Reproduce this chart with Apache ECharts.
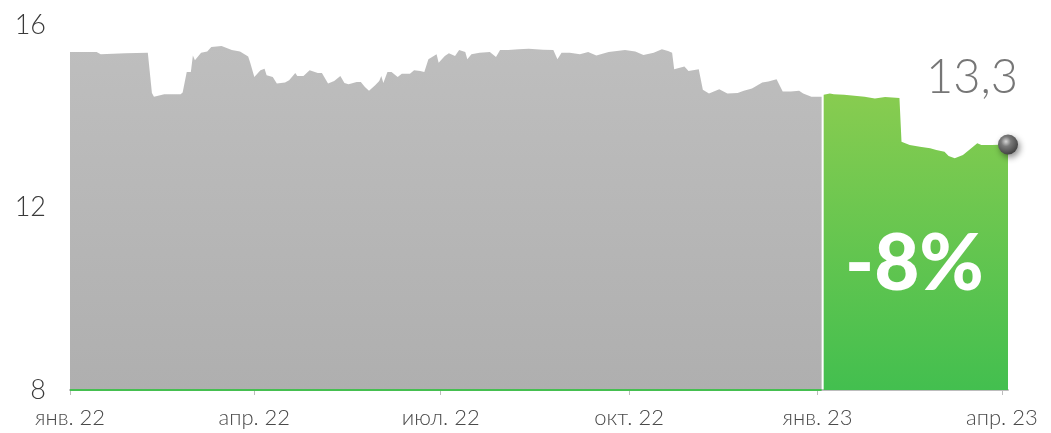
<!DOCTYPE html>
<html>
<head>
<meta charset="utf-8">
<script src="https://cdn.jsdelivr.net/npm/echarts@6/dist/echarts.min.js"></script>
<style>
  html, body { margin: 0; padding: 0; background: #fff; }
  #chart { width: 1051px; height: 433px; }
</style>
</head>
<body>
<div id="chart"></div>
<script>
// 2022: серая часть
var grayDates = ['2022-01-01', '2022-01-14', '2022-01-16', '2022-01-28', '2022-02-08', '2022-02-10', '2022-02-11', '2022-02-14',
  '2022-02-16', '2022-02-24', '2022-02-25', '2022-02-27', '2022-03-01', '2022-03-02', '2022-03-03', '2022-03-06',
  '2022-03-09', '2022-03-11', '2022-03-16', '2022-03-21', '2022-03-25', '2022-03-29', '2022-03-30', '2022-04-01',
  '2022-04-04', '2022-04-06', '2022-04-07', '2022-04-10', '2022-04-12', '2022-04-16', '2022-04-18', '2022-04-21',
  '2022-04-22', '2022-04-25', '2022-04-28', '2022-05-02', '2022-05-04', '2022-05-07', '2022-05-10', '2022-05-13',
  '2022-05-15', '2022-05-17', '2022-05-21', '2022-05-23', '2022-05-25', '2022-05-27', '2022-05-30', '2022-06-01',
  '2022-06-02', '2022-06-03', '2022-06-05', '2022-06-07', '2022-06-10', '2022-06-12', '2022-06-16', '2022-06-18',
  '2022-06-21', '2022-06-23', '2022-06-25', '2022-06-29', '2022-06-30', '2022-07-03', '2022-07-05', '2022-07-08',
  '2022-07-10', '2022-07-13', '2022-07-14', '2022-07-16', '2022-07-20', '2022-07-25', '2022-07-28', '2022-07-30',
  '2022-08-03', '2022-08-08', '2022-08-13', '2022-08-20', '2022-08-25', '2022-08-27', '2022-08-29', '2022-09-02',
  '2022-09-07', '2022-09-11', '2022-09-15', '2022-09-21', '2022-09-29', '2022-10-04', '2022-10-08', '2022-10-13',
  '2022-10-17', '2022-10-20', '2022-10-22', '2022-10-23', '2022-10-28', '2022-10-30', '2022-11-04', '2022-11-06',
  '2022-11-09', '2022-11-14', '2022-11-18', '2022-11-23', '2022-11-26', '2022-11-30', '2022-12-05', '2022-12-08',
  '2022-12-12', '2022-12-15', '2022-12-19', '2022-12-23', '2022-12-25', '2022-12-29', '2023-01-03']
var grayValues = [15.41, 15.41, 15.36, 15.38, 15.39, 14.51, 14.43, 14.46,
  14.48, 14.48, 14.52, 14.97, 14.97, 15.33, 15.23, 15.39,
  15.42, 15.52, 15.54, 15.45, 15.42, 15.31, 15.17, 14.86,
  15.01, 15.04, 14.90, 14.86, 14.72, 14.74, 14.79, 14.95,
  14.88, 14.88, 15.01, 14.95, 14.95, 14.72, 14.77, 14.88,
  14.73, 14.70, 14.75, 14.75, 14.64, 14.56, 14.68, 14.77,
  14.88, 14.73, 14.97, 14.97, 14.86, 14.93, 14.93, 15.01,
  14.99, 14.97, 15.25, 15.36, 15.17, 15.32, 15.38, 15.32,
  15.45, 15.41, 15.25, 15.36, 15.39, 15.41, 15.30, 15.45,
  15.45, 15.47, 15.48, 15.46, 15.45, 15.25, 15.39, 15.39,
  15.36, 15.41, 15.33, 15.41, 15.45, 15.42, 15.34, 15.39,
  15.47, 15.43, 15.39, 15.03, 15.09, 14.99, 15.03, 14.58,
  14.50, 14.59, 14.50, 14.51, 14.56, 14.61, 14.74, 14.76,
  14.81, 14.54, 14.54, 14.56, 14.50, 14.43, 14.43]

// 2023: зелёная часть
var greenDates = ['2023-01-04', '2023-01-07', '2023-01-09', '2023-01-14', '2023-01-19', '2023-01-24', '2023-01-29', '2023-02-03',
  '2023-02-10', '2023-02-11', '2023-02-15', '2023-02-20', '2023-02-25', '2023-02-28', '2023-03-04', '2023-03-06',
  '2023-03-09', '2023-03-13', '2023-03-16', '2023-03-20', '2023-03-22', '2023-03-27', '2023-04-04']
var greenValues = [14.47, 14.50, 14.48, 14.47, 14.45, 14.43, 14.39, 14.42,
  14.40, 13.44, 13.37, 13.33, 13.30, 13.26, 13.22, 13.13,
  13.08, 13.15, 13.26, 13.41, 13.37, 13.37, 13.38]

var tickDates = ['2022-01-01', '2022-04-01', '2022-07-01', '2022-10-01', '2023-01-01', '2023-04-01']
var tickLabels = ['янв. 22', 'апр. 22', 'июл. 22', 'окт. 22', 'янв. 23', 'апр. 23']
var lastLabel = '13,3'
var changeLabel = '-8%'

var FONT = 'Lato, "Open Sans", sans-serif'

function toTime (s) {
  return Date.parse(s + 'T00:00:00Z')
}
function pairs (dates, values) {
  let out = []
  for (let i = 0; i < dates.length; i++) {
    out.push([toTime(dates[i]), values[i]])
  }
  return out
}

let tickTimes = tickDates.map(toTime)
let grayData = pairs(grayDates, grayValues)
let greenData = pairs(greenDates, greenValues)
let last = greenData[greenData.length - 1]

let myChart = echarts.init(document.getElementById('chart'), null, { renderer: 'canvas' })
let option = {
  animation: false,
  grid: {
    left: 70,
    right: 43,
    top: 25,
    bottom: 43
  },
  xAxis: {
    type: 'value',
    min: tickTimes[0],
    max: last[0],
    axisLine: {
      show: true,
      lineStyle: { color: '#bdbdbd', width: 2 }
    },
    axisTick: {
      show: true,
      customValues: tickTimes,
      length: 5,
      lineStyle: { color: '#bdbdbd', width: 1 }
    },
    axisLabel: {
      customValues: tickTimes,
      margin: 17,
      fontFamily: FONT,
      fontWeight: 300,
      fontSize: 22,
      color: '#4a4a4a',
      formatter: function (val) {
        let i = tickTimes.indexOf(val)
        return i >= 0 ? tickLabels[i] : ''
      }
    },
    splitLine: { show: false }
  },
  yAxis: {
    type: 'value',
    min: 8,
    max: 16,
    interval: 4,
    axisLine: { show: false },
    axisTick: { show: false },
    splitLine: { show: false },
    axisLabel: {
      margin: 24,
      fontFamily: FONT,
      fontWeight: 300,
      fontSize: 27,
      color: '#3a3a3a'
    }
  },
  series: [
    {
      name: '2022',
      type: 'line',
      data: grayData,
      showSymbol: false,
      lineStyle: { width: 0 },
      areaStyle: {
        opacity: 1,
        color: new echarts.graphic.LinearGradient(0, 0, 0, 1, [
          { offset: 0, color: '#bebebe' },
          { offset: 1, color: '#afafaf' }
        ])
      },
      markLine: {
        silent: true,
        symbol: 'none',
        label: { show: false },
        lineStyle: { color: '#45bf50', width: 2, type: 'solid' },
        data: [[
          { coord: [grayData[0][0], 8] },
          { coord: [grayData[grayData.length - 1][0], 8] }
        ]]
      },
      z: 2
    },
    {
      name: '2023',
      type: 'line',
      data: greenData,
      showSymbol: false,
      lineStyle: { width: 0 },
      areaStyle: {
        opacity: 1,
        color: new echarts.graphic.LinearGradient(0, 0, 0, 1, [
          { offset: 0, color: '#88cc50' },
          { offset: 1, color: '#43bf4f' }
        ])
      },
      markPoint: {
        silent: true,
        symbol: 'circle',
        symbolSize: 20,
        itemStyle: {
          color: new echarts.graphic.RadialGradient(0.4, 0.35, 0.7, [
            { offset: 0, color: '#d6d6d6' },
            { offset: 0.35, color: '#7a7a7a' },
            { offset: 1, color: '#3c3c3c' }
          ]),
          shadowBlur: 6,
          shadowColor: 'rgba(0,0,0,0.45)',
          shadowOffsetX: 2,
          shadowOffsetY: 3
        },
        label: {
          show: true,
          position: 'inside',
          offset: [-36, -67],
          formatter: lastLabel,
          fontFamily: FONT,
          fontWeight: 300,
          fontSize: 47,
          color: '#767676'
        },
        data: [{ coord: last, value: last[1] }]
      },
      z: 3
    }
  ],
  graphic: [
    {
      type: 'text',
      left: 845,
      top: 226,
      z: 10,
      style: {
        text: changeLabel,
        fontFamily: FONT,
        fontWeight: 900,
        fontSize: 78,
        fill: '#ffffff'
      }
    }
  ]
}
myChart.setOption(option)
</script>
</body>
</html>
